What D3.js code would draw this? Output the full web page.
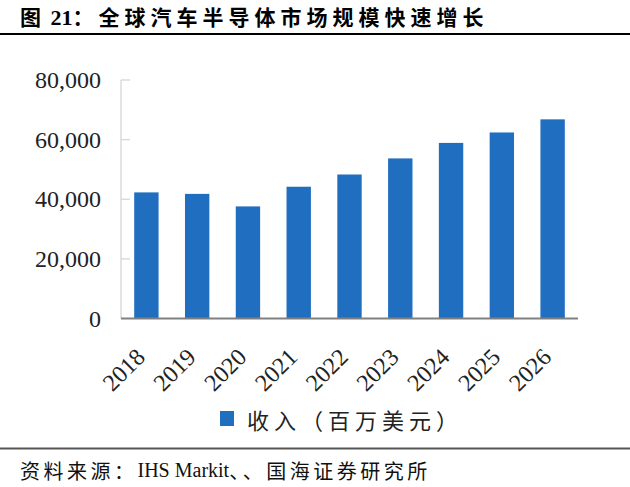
<!DOCTYPE html>
<html>
<head>
<meta charset="utf-8">
<script src="https://cdn.jsdelivr.net/npm/d3@7"></script>
<style>
  body { margin: 0; background: #fff; }
  svg { display: block; }
</style>
</head>
<body>
<div id="chart"></div>
<script>
// Data: global auto semiconductor revenue (USD million)
const years = ["2018", "2019", "2020", "2021", "2022", "2023", "2024", "2025", "2026"];
const revenue = [42300, 41800, 37600, 44200, 48300, 53700, 58900, 62400, 66800];
const yTicks = [0, 20000, 40000, 60000, 80000];
const seriesName = "收入（百万美元）";

const width = 630;
const height = 487;
const plot = { left: 121, right: 578, top: 80, bottom: 318.5 };

const cjk = "'Noto Sans CJK SC', sans-serif";
const serif = "'Liberation Serif', 'Times New Roman', serif";
const barColor = "#1f6ec0";

const svg = d3.select("#chart")
    .append("svg")
    .attr("width", width)
    .attr("height", height);

// Title
const title = svg.append("text")
    .attr("x", 20)
    .attr("y", 25)
    .attr("font-weight", "bold")
    .attr("font-size", "21px")
    .attr("fill", "#000");
title.append("tspan").attr("font-family", cjk).attr("letter-spacing", "4px").text("图");
title.append("tspan").attr("font-family", serif).attr("font-size", "22px").text(" 21");
title.append("tspan").attr("font-family", cjk).attr("letter-spacing", "5px").text("：全球汽车半导体市场规模快速增长");

svg.append("line")
    .attr("x1", 0).attr("x2", width)
    .attr("y1", 34).attr("y2", 34)
    .attr("stroke", "#000")
    .attr("stroke-width", 2);

// Scales
const x = d3.scaleBand()
    .domain(years)
    .range([plot.left, plot.right])
    .paddingInner(0.52)
    .paddingOuter(0.26);

const y = d3.scaleLinear()
    .domain([0, 80000])
    .range([plot.bottom, plot.top]);

// Y axis line and inside ticks
svg.append("line")
    .attr("x1", plot.left).attr("x2", plot.left)
    .attr("y1", plot.top).attr("y2", plot.bottom)
    .attr("stroke", "#d6d6d6")
    .attr("stroke-width", 1.3);

svg.selectAll("line.ytick")
    .data(yTicks.filter(d => d > 0))
    .enter()
    .append("line")
    .attr("class", "ytick")
    .attr("x1", plot.left)
    .attr("x2", plot.left + 9)
    .attr("y1", d => y(d))
    .attr("y2", d => y(d))
    .attr("stroke", "#d6d6d6")
    .attr("stroke-width", 1.3);

svg.selectAll("text.ylabel")
    .data(yTicks)
    .enter()
    .append("text")
    .attr("class", "ylabel")
    .attr("x", 101)
    .attr("y", d => y(d))
    .attr("dominant-baseline", "central")
    .attr("text-anchor", "end")
    .attr("font-family", serif)
    .attr("font-size", "24px")
    .attr("fill", "#222")
    .text(d => d3.format(",")(d));

// Bars
svg.selectAll("rect.bar")
    .data(revenue)
    .enter()
    .append("rect")
    .attr("class", "bar")
    .attr("x", (d, i) => x(years[i]))
    .attr("y", d => y(d))
    .attr("width", x.bandwidth())
    .attr("height", d => y(0) - y(d))
    .attr("fill", barColor);

// X axis
svg.append("line")
    .attr("x1", plot.left).attr("x2", plot.right)
    .attr("y1", plot.bottom).attr("y2", plot.bottom)
    .attr("stroke", "#808080")
    .attr("stroke-width", 2);

svg.selectAll("text.xlabel")
    .data(years)
    .enter()
    .append("text")
    .attr("class", "xlabel")
    .attr("transform", d => `translate(${x(d) + x.bandwidth() / 2}, ${plot.bottom + 40}) rotate(-45)`)
    .attr("text-anchor", "end")
    .attr("font-family", serif)
    .attr("font-size", "24px")
    .attr("fill", "#222")
    .text(d => d);

// Legend
svg.append("rect")
    .attr("x", 220)
    .attr("y", 411)
    .attr("width", 14)
    .attr("height", 15)
    .attr("fill", barColor);

svg.append("text")
    .attr("x", 247)
    .attr("y", 418.5)
    .attr("dominant-baseline", "central")
    .attr("font-family", cjk)
    .attr("font-size", "22px")
    .attr("letter-spacing", "5px")
    .attr("fill", "#222")
    .text(seriesName);

// Source line
svg.append("line")
    .attr("x1", 0).attr("x2", width)
    .attr("y1", 448.5).attr("y2", 448.5)
    .attr("stroke", "#555")
    .attr("stroke-width", 2);

const source = svg.append("text")
    .attr("x", 20)
    .attr("y", 470)
    .attr("dominant-baseline", "central")
    .attr("font-size", "20px")
    .attr("fill", "#111");
source.append("tspan").attr("font-family", cjk).attr("letter-spacing", "3.5px").text("资料来源：");
source.append("tspan").attr("font-family", serif).text("IHS Markit");
source.append("tspan").attr("font-family", cjk).attr("letter-spacing", "3.5px").text("、、国海证券研究所");
</script>
</body>
</html>
